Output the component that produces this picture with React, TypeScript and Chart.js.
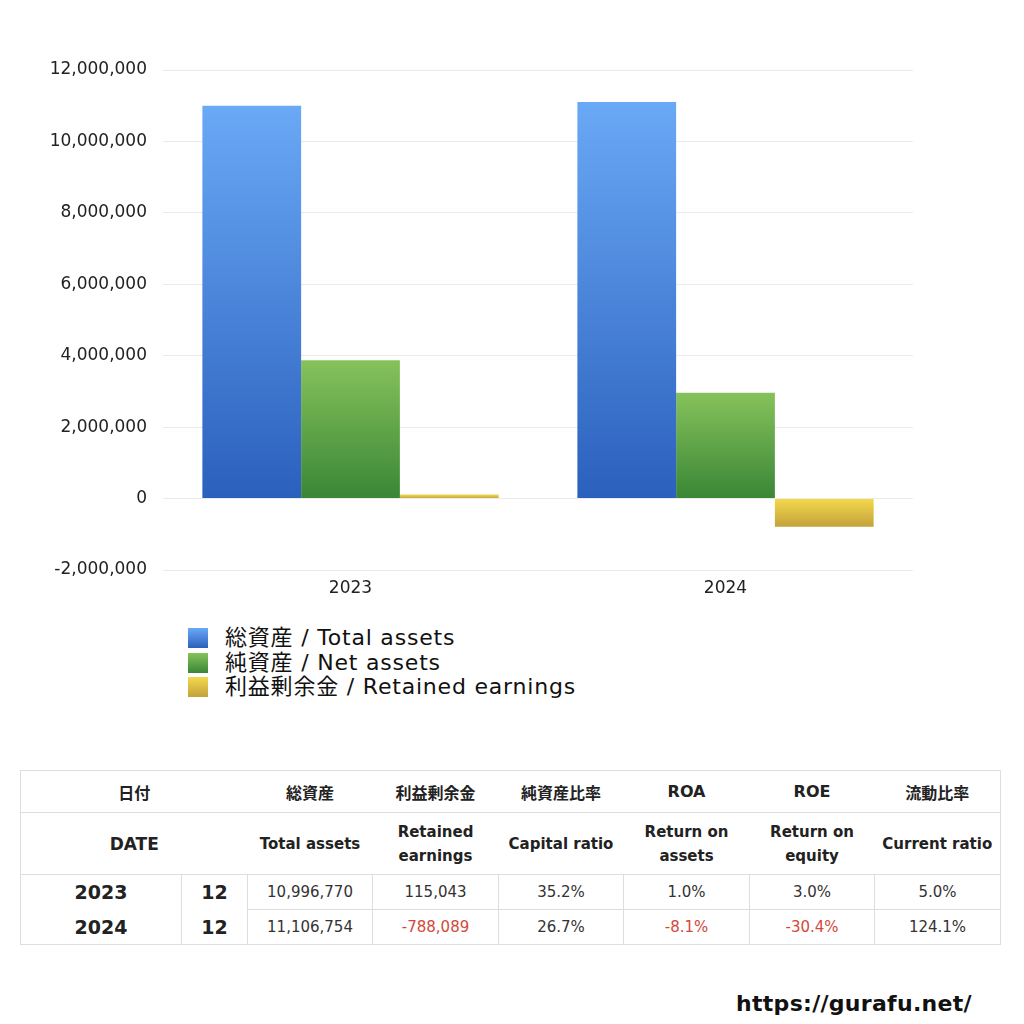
import React, { useEffect, useRef } from "react";
import { Chart, registerables } from "chart.js";

Chart.register(...registerables);

const categories = ["2023", "2024"];
const totalAssets = [10996770, 11106754];
const netAssets = [3870863, 2965503];
const retainedEarnings = [115043, -788089];

const seriesNames = ["総資産 / Total assets", "純資産 / Net assets", "利益剰余金 / Retained earnings"];
const gradTop = ["#6aa9f6", "#86c25b", "#f4d94c"];
const gradBottom = ["#2b60bd", "#3a8636", "#c2a23a"];

const tableHead1 = ["総資産", "利益剰余金", "純資産比率", "ROA", "ROE", "流動比率"];
const tableHead2 = [["Total assets"], ["Retained", "earnings"], ["Capital ratio"], ["Return on", "assets"], ["Return on", "equity"], ["Current ratio"]];
const tableYears = ["2023", "2024"];
const tableMonths = ["12", "12"];
const tableRows = [
  ["10,996,770", "115,043", "35.2%", "1.0%", "3.0%", "5.0%"],
  ["11,106,754", "-788,089", "26.7%", "-8.1%", "-30.4%", "124.1%"],
];

const FONT = "'DejaVu Sans', 'Noto Sans CJK JP', sans-serif";

function makeGradient(idx: number) {
  return (context: any) => {
    const chart = context.chart;
    const y = chart.scales && chart.scales.y;
    if (!y || !chart.chartArea || context.dataIndex === undefined) return gradTop[idx];
    const v = context.raw as number;
    const p0 = y.getPixelForValue(0);
    const p1 = y.getPixelForValue(v);
    const top = Math.min(p0, p1);
    const bottom = Math.max(p0, p1);
    const g = chart.ctx.createLinearGradient(0, top, 0, bottom === top ? top + 1 : bottom);
    g.addColorStop(0, gradTop[idx]);
    g.addColorStop(1, gradBottom[idx]);
    return g;
  };
}

export default function App() {
  const ref = useRef<HTMLCanvasElement>(null);
  useEffect(() => {
    if (!ref.current) return;
    const chart = new Chart(ref.current, {
      type: "bar",
      data: {
        labels: categories,
        datasets: [
          { label: seriesNames[0], data: totalAssets, backgroundColor: makeGradient(0) },
          { label: seriesNames[1], data: netAssets, backgroundColor: makeGradient(1) },
          { label: seriesNames[2], data: retainedEarnings, backgroundColor: makeGradient(2) },
        ],
      },
      options: {
        responsive: false,
        animation: false,
        layout: { padding: { top: 70, right: 111, left: 0, bottom: 0 } },
        datasets: { bar: { categoryPercentage: 0.79, barPercentage: 1.0 } } as any,
        plugins: { legend: { display: false }, tooltip: { enabled: false } },
        scales: {
          x: {
            grid: { display: false, drawTicks: false },
            border: { display: false },
            ticks: { color: "#222", font: { family: FONT, size: 17 }, padding: 8 },
            afterFit: (s: any) => { s.height = 40; },
          },
          y: {
            min: -2000000,
            max: 12000000,
            grid: { color: "#ebebeb", lineWidth: 1, drawTicks: false },
            border: { display: false },
            ticks: {
              stepSize: 2000000,
              color: "#222",
              padding: 16,
              font: { family: FONT, size: 17 },
              callback: (v: any) => Number(v).toLocaleString("en-US"),
            },
            afterFit: (s: any) => { s.width = 163; },
          },
        },
      },
    });
    return () => chart.destroy();
  }, []);

  const border = "1px solid #dedede";
  const cellBase: React.CSSProperties = { padding: 0, textAlign: "center", verticalAlign: "middle" };

  return (
    <div style={{ position: "absolute", left: 0, top: 0, width: 1024, height: 1024, background: "#fff", fontFamily: FONT }}>
      <canvas ref={ref} width={1024} height={610} style={{ position: "absolute", left: 0, top: 0 }} />
      <div style={{ position: "absolute", left: 188, top: 626, lineHeight: "24.5px", fontSize: 22, color: "#111", letterSpacing: 0.8 }}>
        {seriesNames.map((n, i) => (
          <div key={n} style={{ display: "flex", alignItems: "center", height: 24.5 }}>
            <span style={{ display: "inline-block", width: 20, height: 20, marginRight: 17, background: `linear-gradient(${gradTop[i]}, ${gradBottom[i]})` }} />
            <span>{n}</span>
          </div>
        ))}
      </div>
      <table style={{ position: "absolute", left: 20, top: 770, width: 980, borderCollapse: "collapse", tableLayout: "fixed", color: "#222" }}>
        <colgroup>
          <col style={{ width: 161 }} />
          <col style={{ width: 66 }} />
          {[125, 126, 125, 126, 125, 126].map((w, i) => <col key={i} style={{ width: w }} />)}
        </colgroup>
        <tbody>
          <tr style={{ height: 42 }}>
            <td colSpan={2} style={{ ...cellBase, borderTop: border, borderLeft: border, borderBottom: border, fontWeight: 700, fontSize: 16 }}>日付</td>
            {tableHead1.map((h, i) => (
              <td key={h} style={{ ...cellBase, borderTop: border, borderBottom: border, borderRight: i === tableHead1.length - 1 ? border : undefined, fontWeight: 700, fontSize: 16 }}>{h}</td>
            ))}
          </tr>
          <tr style={{ height: 62 }}>
            <td colSpan={2} style={{ ...cellBase, borderLeft: border, borderBottom: border, fontWeight: 700, fontSize: 17 }}>DATE</td>
            {tableHead2.map((h, i) => (
              <td key={i} style={{ ...cellBase, borderBottom: border, borderRight: i === tableHead2.length - 1 ? border : undefined, fontWeight: 600, fontSize: 15, lineHeight: "24px", whiteSpace: "nowrap" }}>
                {h.map((l, j) => <div key={j}>{l}</div>)}
              </td>
            ))}
          </tr>
          {tableRows.map((row, r) => (
            <tr key={r} style={{ height: 35 }}>
              <td style={{ ...cellBase, borderLeft: border, borderRight: border, borderBottom: r === tableRows.length - 1 ? border : undefined, fontWeight: 700, fontSize: 19 }}>{tableYears[r]}</td>
              <td style={{ ...cellBase, borderRight: border, borderBottom: r === tableRows.length - 1 ? border : undefined, fontWeight: 700, fontSize: 19 }}>{tableMonths[r]}</td>
              {row.map((v, c) => (
                <td key={c} style={{ ...cellBase, border: border, fontSize: 15, color: v.startsWith("-") ? "#d4483a" : "#333" }}>{v}</td>
              ))}
            </tr>
          ))}
        </tbody>
      </table>
      <div style={{ position: "absolute", left: 736, top: 991, fontSize: 22, fontWeight: 700, color: "#111", letterSpacing: 0.3 }}>https://gurafu.net/</div>
    </div>
  );
}
